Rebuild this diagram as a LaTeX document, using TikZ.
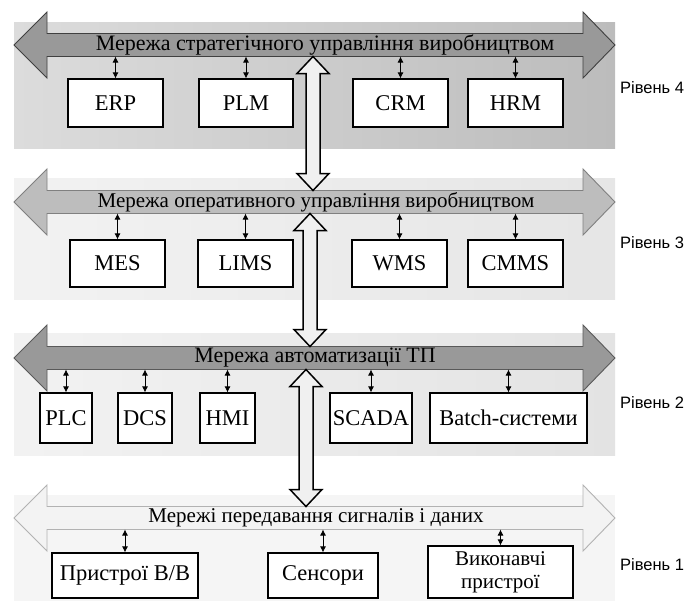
\documentclass[tikz,border=0pt]{standalone}
\usepackage{fontspec}
\setmainfont{Liberation Serif}
\newfontfamily\lvlfont{Liberation Sans}
\usetikzlibrary{arrows.meta}

\definecolor{bandA}{HTML}{DCDCDC}
\definecolor{bandB}{HTML}{BCBCBC}
\definecolor{busdark}{HTML}{999999}
\definecolor{busmid}{HTML}{BDBDBD}
\definecolor{buslight}{HTML}{F3F3F3}

% horizontal bus: #1 name, #2 centre y, #3 fill, #4 outline
\newcommand{\busline}[4]{%
  \filldraw[fill=#3, draw=#4, line width=0.9pt, line join=miter]
    (14,#2) -- (47,#2-33) -- (47,#2-11.5) -- (583,#2-11.5) -- (583,#2-33)
    -- (615,#2) -- (583,#2+33) -- (583,#2+11.5) -- (47,#2+11.5) -- (47,#2+33) -- cycle;
  \coordinate (#1N) at (313,#2-11.5);
  \coordinate (#1S) at (313,#2+11.5);
}
% hollow vertical link: #1 x, #2 top y, #3 bottom y
\newcommand{\vlink}[3]{%
  \filldraw[fill=gray!12, draw=black, line width=1.5pt, line join=miter]
    (#1,#2) -- (#1+16,#2+17) -- (#1+7,#2+17) -- (#1+7,#3-17) -- (#1+16,#3-17)
    -- (#1,#3) -- (#1-16,#3-17) -- (#1-7,#3-17) -- (#1-7,#2+17) -- (#1-16,#2+17) -- cycle;
}

\begin{document}
\begin{tikzpicture}[x=1pt, y=-1pt,
      unit/.style={draw, fill=white, line width=1.2pt, inner sep=0pt,
        font=\fontsize{22.5}{24}\selectfont},
      net/.style={font=\fontsize{22}{24}\selectfont, inner sep=0pt},
      lvl/.style={anchor=west, font=\lvlfont\fontsize{16.5}{18}\selectfont, inner sep=0pt},
      link/.style={{Latex[length=6pt,width=6pt]}-{Latex[length=6pt,width=6pt]}, line width=0.8pt}
      ]
      \useasboundingbox (0,0) rectangle (686,603);

      % bands
      \shade[left color=bandA, right color=bandB] (14,22) rectangle (615,148);
      \shade[left color=gray!10, right color=gray!20] (14,178) rectangle (615,299);
      \shade[left color=gray!10, right color=gray!22] (14,333) rectangle (615,455);
      \fill[gray!8] (14,495) rectangle (615,601);

      % level 4
      \busline{bus4}{45}{busdark}{black!75}
      \node[net] (net4) at (325,45) {Мережа стратегічного управління виробництвом};
      \node[unit, minimum width=95, minimum height=48] (erp) at (115.5,103) {ERP};
      \node[unit, minimum width=94, minimum height=48] (plm) at (246,103) {PLM};
      \node[unit, minimum width=95, minimum height=48] (crm) at (400.5,103) {CRM};
      \node[unit, minimum width=95, minimum height=48] (hrm) at (515.5,103) {HRM};
      \node[lvl] (lvl4) at (620,88) {Рівень 4};
      \foreach \b in {erp,plm,crm,hrm}
        \draw[link] (\b.north |- bus4S) -- (\b.north);

      % level 3
      \busline{bus3}{202}{busmid}{gray}
      \node[net, font=\fontsize{21}{23}\selectfont] (net3) at (316,202) {Мережа оперативного управління виробництвом};
      \node[unit, minimum width=95, minimum height=47] (mes) at (117.5,263.5) {MES};
      \node[unit, minimum width=95, minimum height=47] (lims) at (245.5,263.5) {LIMS};
      \node[unit, minimum width=95, minimum height=47] (wms) at (399.5,263.5) {WMS};
      \node[unit, minimum width=95, minimum height=47] (cmms) at (515.5,263.5) {CMMS};
      \node[lvl] (lvl3) at (620,243) {Рівень 3};
      \foreach \b in {mes,lims,wms,cmms}
        \draw[link] (\b.north |- bus3S) -- (\b.north);

      % level 2
      \busline{bus2}{358}{busdark}{black!65}
      \node[net] (net2) at (315,358) {Мережа автоматизації ТП};
      \node[unit, minimum width=52, minimum height=50] (plc) at (66,418) {PLC};
      \node[unit, minimum width=54, minimum height=50] (dcs) at (145,418) {DCS};
      \node[unit, minimum width=55, minimum height=50] (hmi) at (227.5,418) {HMI};
      \node[unit, minimum width=82, minimum height=50] (scada) at (371,418) {SCADA};
      \node[unit, minimum width=157, minimum height=50] (batch) at (508.5,418) {Batch-системи};
      \node[lvl] (lvl2) at (620,403) {Рівень 2};
      \foreach \b in {plc,dcs,hmi,scada,batch}
        \draw[link] (\b.north |- bus2S) -- (\b.north);

      % level 1
      \busline{bus1}{518}{buslight}{gray!60}
      \node[net, font=\fontsize{21}{23}\selectfont] (net1) at (316,518) {Мережі передавання сигналів і даних};
      \node[unit, minimum width=146, minimum height=45] (io) at (125,575.5) {Пристрої В/В};
      \node[unit, minimum width=110, minimum height=45] (sens) at (323,575.5) {Сенсори};
      \node[unit, minimum width=145, minimum height=52, align=center,
        font=\fontsize{21}{23}\selectfont] (act) at (500.5,572) {Виконавчі\\пристрої};
      \node[lvl] (lvl1) at (620,565) {Рівень 1};
      \foreach \b in {io,sens,act}
        \draw[link] (\b.north |- bus1S) -- (\b.north);

      % links between levels
      \vlink{313}{56.5}{190.5}
      \vlink{310}{213.5}{346.5}
      \vlink{306}{369.5}{506.5}
\end{tikzpicture}
\end{document}
